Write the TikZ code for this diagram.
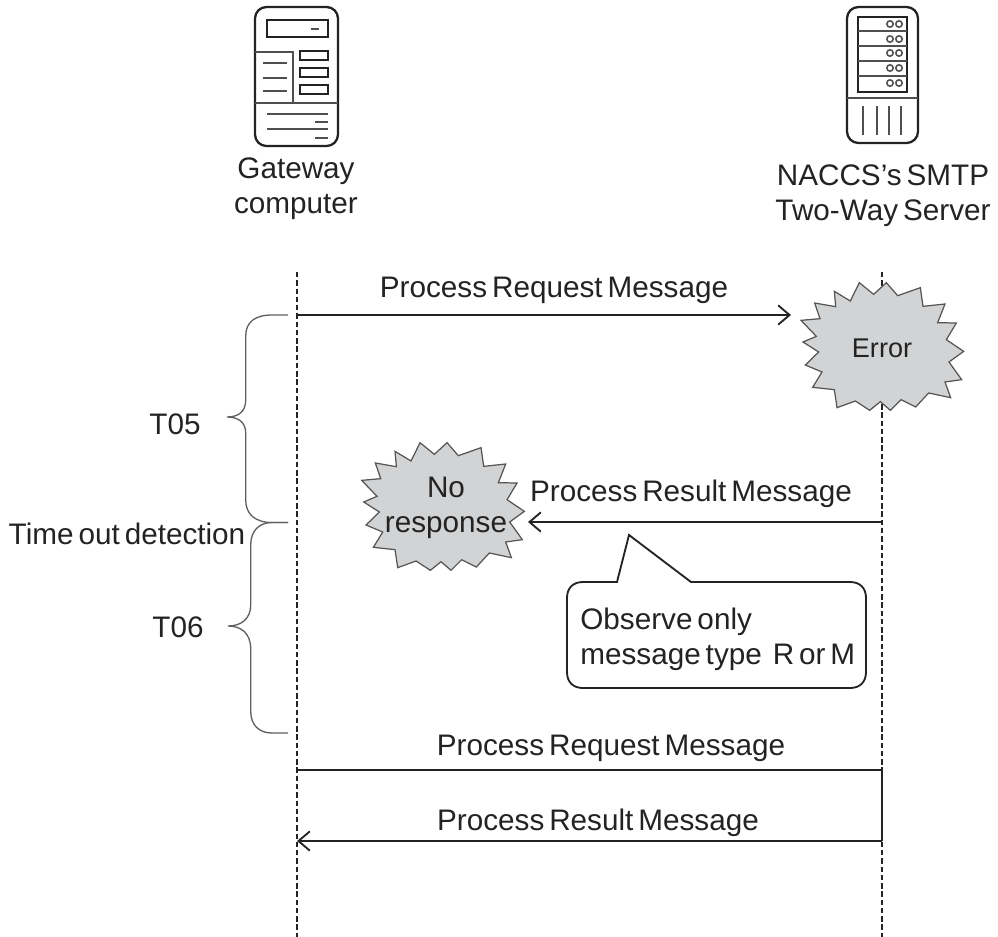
\documentclass[tikz,border=0pt]{standalone}
\usepackage{fontspec}
\setmainfont[WordSpace=0.6]{Liberation Sans}
\usetikzlibrary{arrows.meta,positioning}
\definecolor{inkdark}{RGB}{35,35,35}
\definecolor{bracegray}{RGB}{95,95,95}
\definecolor{burstgray}{RGB}{209,211,212}
\definecolor{burstline}{RGB}{85,85,85}

\begin{document}
\begin{tikzpicture}[
    x=0.02cm, y=-0.02cm,
    label/.style={inner sep=0pt, align=center, text=inkdark, yshift=-1.5pt, font=\fontsize{16.9}{19.8}\selectfont},
    lifeline/.style={draw=inkdark, line width=1pt, dash pattern=on 3.1pt off 1.6pt},
    message/.style={draw=inkdark, line width=1.05pt},
    arrow/.style={message, -{Straight Barb[length=6.5pt,width=11pt,line width=1.05pt]}},
    brace/.style={draw=bracegray, line width=0.75pt},
    icon/.style={draw=inkdark, line width=1.1pt},
    iconthin/.style={draw=inkdark!80, line width=0.7pt},
    burst/.pic={
        \draw[fill=burstgray, draw=burstline, line width=0.7pt, x=0.006667cm, y=-0.006667cm, shift={(-305,-230)}]
            (237,37) -- (280,72) -- (318,37) -- (352,76) -- (420,52) -- (428,108) -- (494,101) -- (472,157)
            -- (528,158) -- (498,208) -- (550,243) -- (506,275) -- (544,328) -- (494,335) -- (511,382)
            -- (445,368) -- (406,410) -- (362,388) -- (330,420) -- (300,394) -- (268,420) -- (225,392)
            -- (170,412) -- (162,358) -- (97,351) -- (125,305) -- (75,284) -- (115,245) -- (68,215)
            -- (108,198) -- (62,150) -- (119,145) -- (103,98) -- (166,109) -- (162,63) -- (210,92) -- cycle;
    }
]
\useasboundingbox (0,0) rectangle (998,937);

% Gateway icon
\draw[icon, rounded corners=6.5pt, line width=1.3pt] (255,7) rectangle (338,146);
\draw[icon] (267,20) rectangle (328,37);
\draw[iconthin] (311,29) -- (319,29);
\draw[iconthin] (255,52) -- (293,52) -- (293,103);
\draw[iconthin] (255,103) -- (338,103);
\foreach \y in {63,78,91} \draw[iconthin] (263,\y) -- (287,\y);
\foreach \y in {51,68,85} \draw[icon] (300,\y) rectangle (328,\y+9);
\foreach \y in {114,129} \draw[iconthin] (267,\y) -- (328,\y);
\foreach \y in {122,138} \draw[iconthin] (315,\y) -- (328,\y);

% Server icon
\draw[icon, rounded corners=6.5pt, line width=1.3pt] (847,7) rectangle (918,143);
\draw[icon, line width=1.3pt] (858,17) rectangle (907,92);
\foreach \y in {31,46,61,76} \draw[iconthin, line width=1pt] (858,\y) -- (907,\y);
\foreach \y in {24,39,53,68,83} {
    \draw[draw=burstline, line width=0.9pt] (890,\y) circle (3.2);
    \draw[draw=burstline, line width=0.9pt] (899,\y) circle (3.2);
}
\draw[iconthin] (847,98) -- (918,98);
\foreach \x in {863,877,889,901} \draw[iconthin] (\x,106) -- (\x,135);

% Names
\node[label] (gateway) at (296,186) {Gateway\\computer};
\node[label] (naccs) at (883,193) {NACCS's SMTP\\Two-Way Server};

% Life lines
\coordinate (gwtop) at (297,272);
\coordinate (gwbot) at (297,937);
\coordinate (srvtop) at (882,272);
\coordinate (srvbot) at (882,937);
\draw[lifeline] (gwtop) -- (gwbot);
\draw[lifeline] (srvtop) -- (srvbot);

% Bursts
\pic at (882,347) {burst};
\pic at (442.7,507) {burst};
\node[label, font=\fontsize{15.4}{18}\selectfont] (error) at (882,346) {Error};
\node[label] (noresp) at (446,505) {No\\response};

% Messages
\coordinate (reqfrom) at (297,315);
\coordinate (reqto) at (791,315);
\coordinate (resfrom) at (882,522);
\coordinate (resto) at (528,522);
\coordinate (retryfrom) at (297,770);
\coordinate (retryto) at (882,770);
\coordinate (backfrom) at (882,841);
\coordinate (backto) at (297,841);
\draw[arrow] (reqfrom) -- (reqto);
\draw[arrow] (resfrom) -- (resto);
\draw[message] (retryfrom) -- (retryto);
\draw[message] (retryto) -- (backfrom);
\draw[arrow] (backfrom) -- (backto);
\node[label] (reqlabel) at (554,288) {Process Request Message};
\node[label] (reslabel) at (691,491) {Process Result Message};
\node[label] (retrylabel) at (611,746) {Process Request Message};
\node[label] (backlabel) at (598,820) {Process Result Message};

% Callout
\draw[message, fill=white] (691,582) -- (850,582) .. controls (860,582) and (866,588) .. (866,598)
    -- (866,672) .. controls (866,682) and (860,688) .. (850,688)
    -- (583,688) .. controls (573,688) and (567,682) .. (567,672)
    -- (567,598) .. controls (567,588) and (573,582) .. (583,582)
    -- (617,582) -- (629,535) -- cycle;
\node[label, anchor=west, align=left] (observe) at (580,637) {Observe only\\message type\hspace{0.2em} R or M};

% Braces
\draw[brace] (288,315) -- (272,315) .. controls (255,315) and (245.7,322) .. (245.7,336) -- (245.7,400)
    .. controls (245.7,412) and (238,417) .. (227,417) .. controls (238,417) and (245.7,422) .. (245.7,433)
    -- (245.7,500) .. controls (245.7,514) and (255,522.5) .. (272,522.5) -- (288,522.5);
\draw[brace] (288,522.5) -- (272,522.5) .. controls (259,522.5) and (250.7,531) .. (250.7,545) -- (250.7,605)
    .. controls (250.7,619) and (241,626) .. (228,626) .. controls (241,626) and (250.7,633) .. (250.7,649)
    -- (250.7,711) .. controls (250.7,725) and (259,733) .. (272,733) -- (288,733);
\node[label] (tfive) at (175,422) {T05};
\node[label] (tsix) at (178,625) {T06};
\node[label] (timeout) at (127,531) {Time out detection};

\end{tikzpicture}
\end{document}
